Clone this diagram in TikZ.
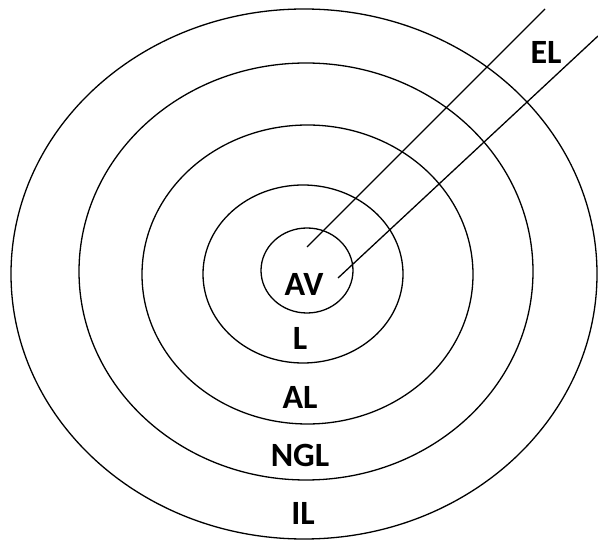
\documentclass[tikz,border=0pt]{standalone}
\usepackage{fontspec}
\setmainfont{Carlito}
\begin{document}
\begin{tikzpicture}[x=1pt,y=-1pt,
  ring/.style={draw=black,line width=1.3pt},
  lbl/.style={font=\bfseries\fontsize{34}{40}\selectfont,inner sep=0pt,anchor=base}]
\useasboundingbox (0,0) rectangle (598,545);
\draw[ring] (304,274) ellipse [x radius=293, y radius=265];
\draw[ring] (306,271.5) ellipse [x radius=227, y radius=208.5];
\draw[ring] (307.5,274.5) ellipse [x radius=165.5, y radius=149.5];
\draw[ring] (303,274) ellipse [x radius=100, y radius=89];
\draw[ring] (307,270.5) ellipse [x radius=46, y radius=42.5];
\coordinate (a1) at (307,247);
\coordinate (b1) at (545,9);
\coordinate (a2) at (338,278);
\coordinate (b2) at (598,36);
\draw[ring] (a1) -- (b1);
\draw[ring] (a2) -- (b2);
\node[lbl] (av) at (304,296) {AV};
\node[lbl] (l) at (300,350) {L};
\node[lbl] (al) at (300,409) {AL};
\node[lbl] (ngl) at (300,467) {NGL};
\node[lbl] (il) at (303,525) {IL};
\node[lbl] (el) at (546,64) {EL};
\end{tikzpicture}
\end{document}
